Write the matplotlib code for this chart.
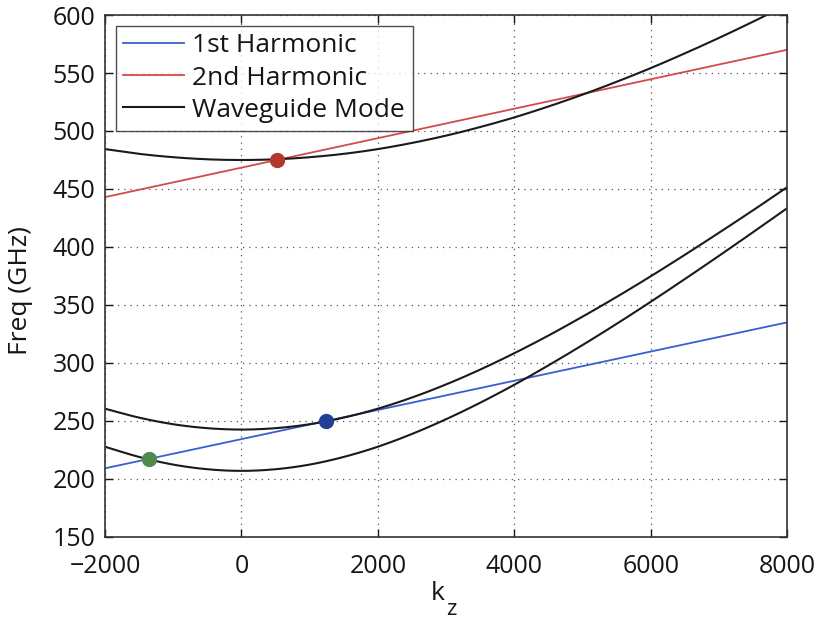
import numpy as np
import matplotlib
matplotlib.use("Agg")
import matplotlib.pyplot as plt

plt.rcParams['font.family'] = ['Open Sans', 'DejaVu Sans']

# ---- data ----
kz = [-2000, -1500, -1000, -500, 0, 500, 1000, 1500, 2000, 2500, 3000,
      3500, 4000, 4500, 5000, 5500, 6000, 6500, 7000, 7500, 8000]
mode_top = [484.4, 480.3, 477.4, 475.6, 475.0, 475.6, 477.4, 480.3, 484.4, 489.7, 496.0,
            503.4, 511.7, 521.1, 531.3, 542.4, 554.2, 566.9, 580.2, 594.2, 608.8]
mode_mid = [260.6, 252.9, 247.2, 243.8, 242.6, 243.8, 247.2, 252.9, 260.6, 270.2, 281.5,
            294.3, 308.4, 323.6, 339.9, 356.9, 374.7, 393.2, 412.2, 431.6, 451.5]
mode_low = [227.8, 219.0, 212.4, 208.4, 207.0, 208.4, 212.4, 219.0, 227.8, 238.8, 251.5,
            265.7, 281.2, 297.9, 315.4, 333.7, 352.7, 372.3, 392.3, 412.7, 433.4]

harm1_k = [-2000, 8000]
harm1_f = [209.2, 335.0]
harm2_k = [-2000, 8000]
harm2_f = [443.0, 570.0]

pts_k = [-1355, 1236, 518]
pts_f = [216.9, 250.0, 475.2]
pts_color = ['#4f8a4d', '#213f96', '#b3372d']

xticks = [-2000, 0, 2000, 4000, 6000, 8000]
xticklabels = ['\u22122000', '0', '2000', '4000', '6000', '8000']
yticks = [150, 200, 250, 300, 350, 400, 450, 500, 550, 600]

TXT = '#151515'


def catmull(x, y, n=20):
    x = np.asarray(x, float); y = np.asarray(y, float)
    xp = np.concatenate([[2 * x[0] - x[1]], x, [2 * x[-1] - x[-2]]])
    yp = np.concatenate([[2 * y[0] - y[1]], y, [2 * y[-1] - y[-2]]])
    xs, ys = [], []
    t = np.linspace(0, 1, n, endpoint=False)
    def f(a0, a1, a2, a3):
        return 0.5 * ((2 * a1) + (-a0 + a2) * t +
                      (2 * a0 - 5 * a1 + 4 * a2 - a3) * t ** 2 +
                      (-a0 + 3 * a1 - 3 * a2 + a3) * t ** 3)
    for i in range(1, len(xp) - 2):
        xs.append(f(xp[i - 1], xp[i], xp[i + 1], xp[i + 2]))
        ys.append(f(yp[i - 1], yp[i], yp[i + 1], yp[i + 2]))
    xs.append([x[-1]]); ys.append([y[-1]])
    return np.concatenate(xs), np.concatenate(ys)


fig = plt.figure(figsize=(8.19, 6.20), dpi=100)
ax = fig.add_axes([0.1282, 0.1339, 0.8328, 0.8419])

l1, = ax.plot(harm1_k, harm1_f, color='#3a5fcd', lw=1.3, label='1st Harmonic')
l2, = ax.plot(harm2_k, harm2_f, color='#d24b4b', lw=1.3, label='2nd Harmonic')
l3 = None
for i, m in enumerate([mode_top, mode_mid, mode_low]):
    xs, ys = catmull(kz, m)
    ln, = ax.plot(xs, ys, color='#1a1a1a', lw=1.5,
                  label='Waveguide Mode' if i == 0 else None)
    if i == 0:
        l3 = ln

for k, f, c in zip(pts_k, pts_f, pts_color):
    ax.plot(k, f, 'o', color=c, markersize=10, zorder=5)

ax.set_xlim(-2000, 8000)
ax.set_ylim(150, 600)
ax.set_xticks(xticks)
ax.set_yticks(yticks)
ax.set_xticklabels(xticklabels)
ax.tick_params(direction='in', top=True, right=True, length=6, width=1,
               labelsize=18, colors=TXT)
ax.tick_params(axis='x', pad=12.5)
ax.tick_params(axis='y', pad=7)
ax.grid(True, linestyle=(0, (1, 4)), color='#555555', lw=0.9)
for s in ax.spines.values():
    s.set_linewidth(1.2)
    s.set_color('#333333')

# x label "k" with subscript "z"
fig.text(438 / 819, 1 - 600 / 620, 'k', fontsize=19, ha='center',
         va='baseline', color=TXT)
fig.text(451 / 819, 1 - 615 / 620, 'z', fontsize=16, ha='center',
         va='baseline', color=TXT)
ax.set_ylabel('Freq (GHz)', fontsize=19, color=TXT)
ax.yaxis.set_label_coords(-0.105, 0.473)

leg = ax.legend(handles=[l1, l2, l3], loc='upper left', fontsize=19,
                frameon=True, fancybox=False, edgecolor='#222222',
                handlelength=2.3, handletextpad=0.3, borderpad=0.3,
                labelspacing=0.27, borderaxespad=0.4)
leg.get_frame().set_linewidth(1.0)
for t in leg.get_texts():
    t.set_color(TXT)

fig.savefig('out.png', dpi=100)
